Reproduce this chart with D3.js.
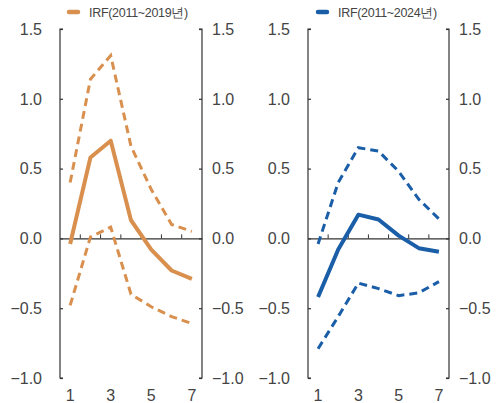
<!DOCTYPE html>
<html>
<head>
<meta charset="utf-8">
<script src="https://cdn.jsdelivr.net/npm/d3@7"></script>
<style>
  body { margin: 0; background: #fff; }
  svg text { font-family: "Liberation Sans", Arial, sans-serif; fill: #444; }
</style>
</head>
<body>
<div id="chart"></div>
<script>
/* IRF panels */

const periods = [1, 2, 3, 4, 5, 6, 7];
const tickLabels = [1, 3, 5, 7];
const yTicks = [-1.0, -0.5, 0.0, 0.5, 1.0, 1.5];

const irf2019 = [-0.04, 0.58, 0.70, 0.13, -0.08, -0.23, -0.29];
const upper2019 = [0.40, 1.14, 1.31, 0.66, 0.35, 0.10, 0.05];
const lower2019 = [-0.48, 0.01, 0.08, -0.40, -0.49, -0.56, -0.61];

const irf2024 = [-0.42, -0.08, 0.17, 0.135, 0.02, -0.07, -0.095];
const upper2024 = [-0.04, 0.40, 0.65, 0.625, 0.48, 0.28, 0.14];
const lower2024 = [-0.79, -0.56, -0.32, -0.36, -0.41, -0.39, -0.31];

const width = 498, height = 403;

const svg = d3.select("#chart")
    .append("svg")
    .attr("width", width)
    .attr("height", height);

const panels = [
    { left: 60, right: 202, color: "#D9904F", label: "IRF(2011~2019년)",
      mid: irf2019, up: upper2019, lo: lower2019, legendX: 67 },
    { left: 308, right: 449, color: "#1B5EA8", label: "IRF(2011~2024년)",
      mid: irf2024, up: upper2024, lo: lower2024, legendX: 316 }
];

let y = d3.scaleLinear()
    .domain([-1, 1.5])
    .range([378, 29]);

for (let p of panels) {
    let x = d3.scaleBand()
        .domain(periods)
        .range([p.left, p.right])
        .padding(0);

    let g = svg.append("g");

    // left axis
    let ya = g.append("g")
        .attr("transform", `translate(${p.left},0)`)
        .call(d3.axisRight(y).tickValues(yTicks).tickSize(3).tickFormat(d3.format(".1f")));
    ya.selectAll("text").remove();
    ya.select(".domain").attr("d", `M3,${y(1.5)}H0V${y(-1)}H3`);

    // right axis
    let yb = g.append("g")
        .attr("transform", `translate(${p.right},0)`)
        .call(d3.axisLeft(y).tickValues(yTicks).tickSize(3));
    yb.selectAll("text").remove();
    yb.select(".domain").attr("d", `M-3,${y(1.5)}H0V${y(-1)}H-3`);

    g.selectAll("path.domain, .tick line").attr("stroke", "#333").attr("stroke-width", 1.2);

    // tick labels
    g.selectAll(".ylab-l")
        .data(yTicks)
        .join("text")
        .attr("x", p.left - 18)
        .attr("y", d => y(d))
        .attr("dy", "0.36em")
        .attr("text-anchor", "end")
        .attr("font-size", 16)
        .text(d => d3.format(".1f")(d).replace("-", "\u2212"));

    g.selectAll(".ylab-r")
        .data(yTicks)
        .join("text")
        .attr("x", p.right + 10)
        .attr("y", d => y(d))
        .attr("dy", "0.36em")
        .attr("text-anchor", "start")
        .attr("font-size", 16)
        .text(d => d3.format(".1f")(d).replace("-", "\u2212"));

    // zero line with category ticks
    let xa = g.append("g")
        .attr("transform", `translate(0,${y(0)})`)
        .call(d3.axisTop(x).tickValues([]).tickSizeOuter(0));
    xa.select(".domain").attr("stroke", "#333").attr("stroke-width", 1.2);
    xa.selectAll(".bnd")
        .data(periods.slice(1))
        .join("line")
        .attr("x1", d => x(d)).attr("x2", d => x(d))
        .attr("y1", 0).attr("y2", -4)
        .attr("stroke", "#333");

    g.selectAll(".xlab")
        .data(tickLabels)
        .join("text")
        .attr("x", d => x(d) + x.bandwidth() / 2)
        .attr("y", 395)
        .attr("dy", "0.36em")
        .attr("text-anchor", "middle")
        .attr("font-size", 16)
        .text(d => d);

    let line = d3.line()
        .x((d, i) => x(periods[i]) + x.bandwidth() / 2)
        .y(d => y(d));

    g.append("path")
        .datum(p.up)
        .attr("d", line)
        .attr("fill", "none")
        .attr("stroke", p.color)
        .attr("stroke-width", 3)
        .attr("stroke-dasharray", "8,5");

    g.append("path")
        .datum(p.lo)
        .attr("d", line)
        .attr("fill", "none")
        .attr("stroke", p.color)
        .attr("stroke-width", 3)
        .attr("stroke-dasharray", "8,5");

    g.append("path")
        .datum(p.mid)
        .attr("d", line)
        .attr("fill", "none")
        .attr("stroke", p.color)
        .attr("stroke-width", 4)
        .attr("stroke-linejoin", "round");

    // legend
    g.append("line")
        .attr("x1", p.legendX + 2).attr("x2", p.legendX + 11)
        .attr("y1", 12).attr("y2", 12)
        .attr("stroke", p.color)
        .attr("stroke-width", 4.5)
        .attr("stroke-linecap", "round");

    g.append("text")
        .attr("x", p.legendX + 22)
        .attr("y", 12)
        .attr("dy", "0.36em")
        .attr("font-size", 12.5)
        .attr("letter-spacing", "-0.3")
        .attr("fill", "#555")
        .text(p.label);
}
</script>
</body>
</html>
